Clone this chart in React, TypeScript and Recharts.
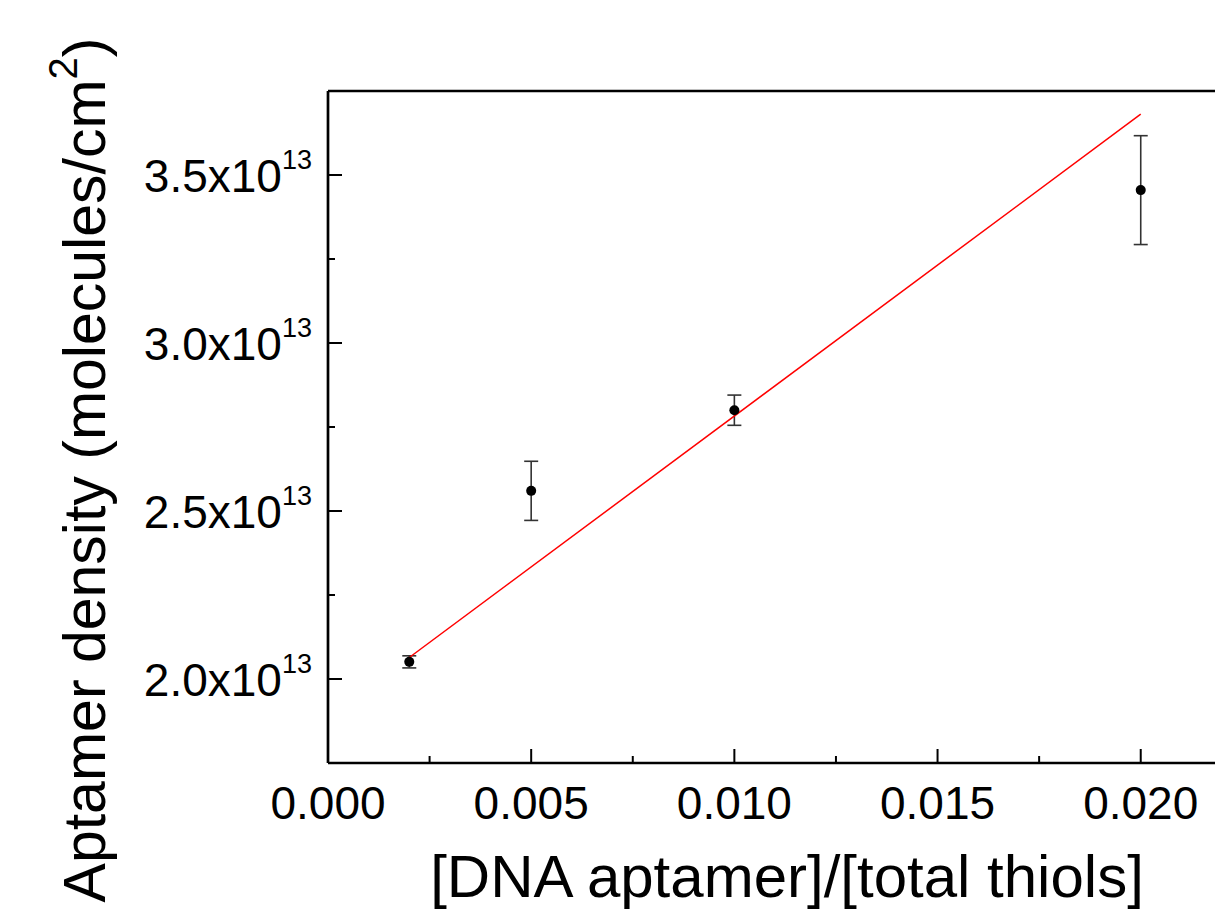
import { ScatterChart, Scatter, XAxis, YAxis, ErrorBar, Label } from 'recharts';

// measured points
const ratio = [0.002, 0.005, 0.01, 0.02];
const density = [2.051e13, 2.56e13, 2.8e13, 3.455e13];
const densityErr = [0.018e13, 0.088e13, 0.045e13, 0.162e13];

// linear fit end points
const fitX = [0.002, 0.02];
const fitY = [2.064e13, 3.681e13];

const xTicks = [0, 0.0025, 0.005, 0.0075, 0.01, 0.0125, 0.015, 0.0175, 0.02];
const xMajor = [0, 0.005, 0.01, 0.015, 0.02];
const yTicks = [1.75e13, 2e13, 2.25e13, 2.5e13, 2.75e13, 3e13, 3.25e13, 3.5e13, 3.75e13];
const yMajor = [2e13, 2.5e13, 3e13, 3.5e13];

const FONT = "'Liberation Sans', Arial, sans-serif";

const points = ratio.map((x, i) => ({ x, y: density[i], err: densityErr[i] }));
const fit = fitX.map((x, i) => ({ x, y: fitY[i] }));

const isMajor = (v: number, list: number[]) => list.some((m) => Math.abs(m - v) < Math.abs(m) * 1e-6 + 1e-9);

function BottomTick({ x, y, payload }: any) {
  const major = isMajor(payload.value, xMajor);
  return (
    <g>
      <line x1={x} x2={x} y1={y} y2={y - (major ? 14 : 7)} stroke="#000" strokeWidth={2} />
      {major && (
        <text x={x} y={y + 56} textAnchor="middle" fontSize={46} fontFamily={FONT} fill="#000">
          {payload.value.toFixed(3)}
        </text>
      )}
    </g>
  );
}

function TopTick({ x, y, payload }: any) {
  const major = isMajor(payload.value, xMajor);
  return <line x1={x} x2={x} y1={y} y2={y + (major ? 14 : 7)} stroke="#000" strokeWidth={2} />;
}

function LeftTick({ x, y, payload }: any) {
  const major = isMajor(payload.value, yMajor);
  return (
    <g>
      <line x1={x} x2={x + (major ? 14 : 7)} y1={y} y2={y} stroke="#000" strokeWidth={2} />
      {major && (
        <text x={x - 16} y={y + 17} textAnchor="end" fontSize={46} fontFamily={FONT} fill="#000">
          {(payload.value / 1e13).toFixed(1)}x10
          <tspan dy={-23} fontSize={27}>13</tspan>
        </text>
      )}
    </g>
  );
}

function XTitle({ viewBox }: any) {
  const cx = viewBox.x + viewBox.width / 2 + 12;
  const cy = viewBox.y + 134;
  return (
    <text x={cx} y={cy} textAnchor="middle" fontSize={60} fontFamily={FONT} fill="#000">
      [DNA aptamer]/[total thiols]
    </text>
  );
}

function YTitle({ viewBox }: any) {
  const cx = viewBox.x + 105;
  const cy = viewBox.y + viewBox.height / 2 + 43;
  return (
    <text
      x={cx}
      y={cy}
      transform={`rotate(-90, ${cx}, ${cy})`}
      textAnchor="middle"
      fontSize={59}
      fontFamily={FONT}
      fill="#000"
    >
      Aptamer density (molecules/cm
      <tspan dy={-28} fontSize={40}>2</tspan>
      <tspan dy={28}>)</tspan>
    </text>
  );
}

export default function App() {
  return (
    <div
      style={{
        position: 'absolute',
        left: 0,
        top: 0,
        width: 1215,
        height: 909,
        overflow: 'hidden',
        background: '#fff',
        fontFamily: FONT,
      }}
    >
      <ScatterChart width={1222} height={909} margin={{ top: 0, right: 0, bottom: 0, left: 0 }}>
        <XAxis
          type="number"
          dataKey="x"
          domain={[0, 0.022]}
          ticks={xTicks}
          interval={0}
          height={146}
          tickSize={0}
          tickMargin={0}
          tickLine={false}
          axisLine={{ stroke: '#000', strokeWidth: 2.7 }}
          tick={<BottomTick />}
        >
          <Label content={<XTitle />} />
        </XAxis>
        <XAxis
          xAxisId="top"
          orientation="top"
          type="number"
          dataKey="x"
          domain={[0, 0.022]}
          ticks={xTicks}
          interval={0}
          height={91}
          tickSize={0}
          tickMargin={0}
          tickLine={false}
          axisLine={{ stroke: '#000', strokeWidth: 2.7 }}
          tick={<TopTick />}
        />
        <YAxis
          type="number"
          dataKey="y"
          domain={[1.75e13, 3.75e13]}
          ticks={yTicks}
          interval={0}
          width={328}
          tickSize={0}
          tickMargin={0}
          tickLine={false}
          axisLine={{ stroke: '#000', strokeWidth: 2.7 }}
          tick={<LeftTick />}
        >
          <Label content={<YTitle />} />
        </YAxis>
        <Scatter
          data={fit}
          line={{ stroke: '#ff0000', strokeWidth: 1.5 }}
          shape={() => <g />}
          isAnimationActive={false}
          legendType="none"
        />
        <Scatter
          data={points}
          fill="#000"
          shape={(p: any) => <circle cx={p.cx} cy={p.cy} r={5} fill="#000" />}
          isAnimationActive={false}
        >
          <ErrorBar
            dataKey="err"
            direction="y"
            width={7}
            stroke="#333"
            strokeWidth={1.6}
            isAnimationActive={false}
          />
        </Scatter>
      </ScatterChart>
    </div>
  );
}
